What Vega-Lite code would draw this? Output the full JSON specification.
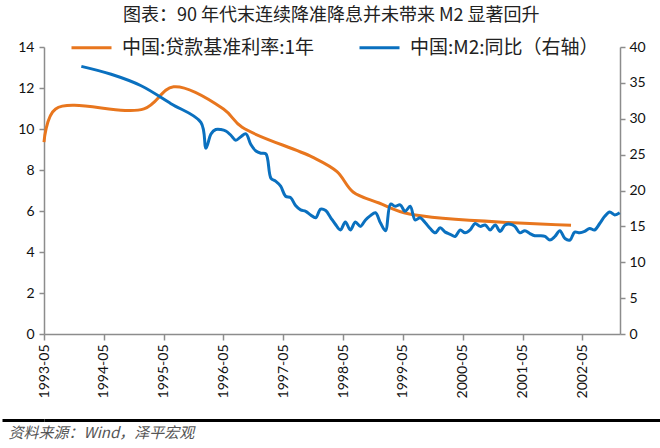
{
  "$schema": "https://vega.github.io/schema/vega-lite/v6.json",
  "padding": {"top": 7, "left": 0, "right": 0, "bottom": 0},
  "spacing": 20,
  "title": {
    "text": "图表：90 年代末连续降准降息并未带来 M2 显著回升",
    "font": "Noto Sans CJK SC",
    "fontSize": 18,
    "fontWeight": "normal",
    "color": "#222222",
    "anchor": "middle",
    "offset": 1
  },
  "datasets": {
    "rate": [
      {"date": "1993-05-01", "rate": 9.36},
      {"date": "1993-07-11", "rate": 10.98},
      {"date": "1995-01-01", "rate": 10.98},
      {"date": "1995-07-01", "rate": 12.06},
      {"date": "1996-05-01", "rate": 10.98},
      {"date": "1996-08-23", "rate": 10.08},
      {"date": "1997-10-23", "rate": 8.64},
      {"date": "1998-03-25", "rate": 7.92},
      {"date": "1998-07-01", "rate": 6.93},
      {"date": "1998-12-07", "rate": 6.39},
      {"date": "1999-06-10", "rate": 5.85},
      {"date": "2002-02-21", "rate": 5.31}
    ],
    "m2": [
      {"date": "1993-12-15", "m2": 37.3},
      {"date": "1994-06-15", "m2": 36.2},
      {"date": "1994-12-15", "m2": 34.6},
      {"date": "1995-06-15", "m2": 32.1},
      {"date": "1995-12-15", "m2": 29.5},
      {"date": "1996-01-15", "m2": 25.9},
      {"date": "1996-02-15", "m2": 27.9},
      {"date": "1996-03-15", "m2": 28.5},
      {"date": "1996-04-15", "m2": 28.5},
      {"date": "1996-05-15", "m2": 28.3},
      {"date": "1996-06-15", "m2": 27.7},
      {"date": "1996-07-15", "m2": 27.0},
      {"date": "1996-08-15", "m2": 27.5},
      {"date": "1996-09-15", "m2": 27.9},
      {"date": "1996-10-15", "m2": 26.4},
      {"date": "1996-11-15", "m2": 25.5},
      {"date": "1996-12-15", "m2": 25.2},
      {"date": "1997-01-15", "m2": 25.1},
      {"date": "1997-02-15", "m2": 21.7},
      {"date": "1997-03-15", "m2": 21.3},
      {"date": "1997-04-15", "m2": 20.6},
      {"date": "1997-05-15", "m2": 19.2},
      {"date": "1997-06-15", "m2": 19.0},
      {"date": "1997-07-15", "m2": 17.9},
      {"date": "1997-08-15", "m2": 17.3},
      {"date": "1997-09-15", "m2": 17.1},
      {"date": "1997-10-15", "m2": 16.6},
      {"date": "1997-11-15", "m2": 16.2},
      {"date": "1997-12-15", "m2": 17.4},
      {"date": "1998-01-15", "m2": 17.2},
      {"date": "1998-02-15", "m2": 16.2},
      {"date": "1998-03-15", "m2": 15.3},
      {"date": "1998-04-15", "m2": 14.5},
      {"date": "1998-05-15", "m2": 15.6},
      {"date": "1998-06-15", "m2": 14.5},
      {"date": "1998-07-15", "m2": 15.6},
      {"date": "1998-08-15", "m2": 15.0},
      {"date": "1998-09-15", "m2": 15.9},
      {"date": "1998-10-15", "m2": 16.5},
      {"date": "1998-11-15", "m2": 16.9},
      {"date": "1998-12-15", "m2": 15.5},
      {"date": "1999-01-15", "m2": 14.4},
      {"date": "1999-02-15", "m2": 18.1},
      {"date": "1999-03-15", "m2": 17.8},
      {"date": "1999-04-15", "m2": 18.0},
      {"date": "1999-05-15", "m2": 17.1},
      {"date": "1999-06-15", "m2": 17.8},
      {"date": "1999-07-15", "m2": 15.9},
      {"date": "1999-08-15", "m2": 16.2},
      {"date": "1999-09-15", "m2": 15.5},
      {"date": "1999-10-15", "m2": 14.7},
      {"date": "1999-11-15", "m2": 14.1},
      {"date": "1999-12-15", "m2": 14.8},
      {"date": "2000-01-15", "m2": 14.2},
      {"date": "2000-02-15", "m2": 13.9},
      {"date": "2000-03-15", "m2": 13.6},
      {"date": "2000-04-15", "m2": 14.5},
      {"date": "2000-05-15", "m2": 14.1},
      {"date": "2000-06-15", "m2": 14.5},
      {"date": "2000-07-15", "m2": 15.4},
      {"date": "2000-08-15", "m2": 15.0},
      {"date": "2000-09-15", "m2": 15.2},
      {"date": "2000-10-15", "m2": 14.5},
      {"date": "2000-11-15", "m2": 15.2},
      {"date": "2000-12-15", "m2": 14.3},
      {"date": "2001-01-15", "m2": 15.2},
      {"date": "2001-02-15", "m2": 15.3},
      {"date": "2001-03-15", "m2": 15.0},
      {"date": "2001-04-15", "m2": 14.1},
      {"date": "2001-05-15", "m2": 14.4},
      {"date": "2001-06-15", "m2": 14.0},
      {"date": "2001-07-15", "m2": 13.7},
      {"date": "2001-08-15", "m2": 13.7},
      {"date": "2001-09-15", "m2": 13.6},
      {"date": "2001-10-15", "m2": 13.1},
      {"date": "2001-11-15", "m2": 13.6},
      {"date": "2001-12-15", "m2": 14.4},
      {"date": "2002-01-15", "m2": 13.3},
      {"date": "2002-02-15", "m2": 13.1},
      {"date": "2002-03-15", "m2": 14.2},
      {"date": "2002-04-15", "m2": 14.1},
      {"date": "2002-05-15", "m2": 14.3},
      {"date": "2002-06-15", "m2": 14.7},
      {"date": "2002-07-15", "m2": 14.5},
      {"date": "2002-08-15", "m2": 15.4},
      {"date": "2002-09-15", "m2": 16.4},
      {"date": "2002-10-15", "m2": 17.0},
      {"date": "2002-11-15", "m2": 16.6},
      {"date": "2002-12-15", "m2": 16.9}
    ]
  },
  "vconcat": [
    {
      "width": 576,
      "height": 287,
      "view": {"stroke": null},
      "layer": [
        {
          "data": {"name": "rate"},
          "mark": {"type": "line", "interpolate": "catmull-rom", "strokeWidth": 3},
          "encoding": {
            "x": {
              "field": "date",
              "type": "temporal",
              "scale": {"domain": [{"year": 1993, "month": 5, "date": 1}, {"year": 2002, "month": 12, "date": 17}]},
              "axis": {
                "values": [
                  {"year": 1993, "month": 5, "date": 1},
                  {"year": 1994, "month": 5, "date": 1},
                  {"year": 1995, "month": 5, "date": 1},
                  {"year": 1996, "month": 5, "date": 1},
                  {"year": 1997, "month": 5, "date": 1},
                  {"year": 1998, "month": 5, "date": 1},
                  {"year": 1999, "month": 5, "date": 1},
                  {"year": 2000, "month": 5, "date": 1},
                  {"year": 2001, "month": 5, "date": 1},
                  {"year": 2002, "month": 5, "date": 1}
                ],
                "format": "%Y-%m",
                "labelAngle": -90,
                "labelPadding": 4,
                "tickSize": 6,
                "grid": false,
                "title": null
              }
            },
            "y": {
              "field": "rate",
              "type": "quantitative",
              "scale": {"domain": [0, 14]},
              "axis": {
                "orient": "left",
                "values": [0, 2, 4, 6, 8, 10, 12, 14],
                "grid": false,
                "title": null,
                "tickSize": 5,
                "labelPadding": 5,
                "minExtent": 42
              }
            },
            "color": {
              "datum": "中国:贷款基准利率:1年",
              "type": "nominal",
              "scale": {
                "domain": ["中国:贷款基准利率:1年", "中国:M2:同比（右轴）"],
                "range": ["#E8761E", "#0A70BF"]
              },
              "legend": {
                "orient": "none",
                "direction": "horizontal",
                "columns": 2,
                "legendX": 26,
                "legendY": -21,
                "title": null,
                "symbolType": "stroke",
                "symbolSize": 1600,
                "symbolStrokeWidth": 3,
                "labelFont": "Noto Sans CJK SC",
                "labelFontSize": 19,
                "labelColor": "#222222",
                "labelLimit": 400,
                "labelOffset": 9,
                "columnPadding": 38
              }
            }
          }
        },
        {
          "data": {"name": "m2"},
          "mark": {"type": "line", "interpolate": "catmull-rom", "strokeWidth": 3},
          "encoding": {
            "x": {"field": "date", "type": "temporal"},
            "y": {
              "field": "m2",
              "type": "quantitative",
              "scale": {"domain": [0, 40]},
              "axis": {
                "orient": "right",
                "values": [0, 5, 10, 15, 20, 25, 30, 35, 40],
                "grid": false,
                "title": null,
                "tickSize": 5,
                "labelPadding": 4
              }
            },
            "color": {"datum": "中国:M2:同比（右轴）", "type": "nominal"}
          }
        }
      ],
      "resolve": {"scale": {"y": "independent"}}
    },
    {
      "data": {"values": []},
      "mark": "point",
      "encoding": {
        "x": {
          "field": "u",
          "type": "quantitative",
          "scale": {"domain": [0, 1]},
          "axis": {
            "orient": "bottom",
            "ticks": false,
            "labels": false,
            "grid": false,
            "title": null,
            "domainColor": "#000000",
            "domainWidth": 3
          }
        },
        "y": {
          "field": "v",
          "type": "quantitative",
          "scale": {"domain": [0, 1]},
          "axis": {
            "values": [0],
            "tickSize": 42,
            "tickColor": "#000000",
            "tickWidth": 3,
            "labels": false,
            "domain": false,
            "grid": false,
            "title": null,
            "minExtent": 0,
            "maxExtent": 42
          }
        }
      },
      "width": 618,
      "height": 1,
      "view": {"stroke": null},
      "title": {
        "text": "资料来源：Wind，泽平宏观",
        "orient": "bottom",
        "anchor": "start",
        "font": "Noto Sans CJK SC",
        "fontStyle": "italic",
        "fontWeight": "normal",
        "fontSize": 15,
        "color": "#555555",
        "offset": 4,
        "dx": 8
      }
    }
  ],
  "config": {
    "axis": {
      "labelFont": "Lato",
      "labelFontSize": 14,
      "labelColor": "#111111",
      "domainColor": "#8C8C8C",
      "domainWidth": 1.5,
      "tickColor": "#8C8C8C",
      "tickWidth": 1.5
    }
  }
}
